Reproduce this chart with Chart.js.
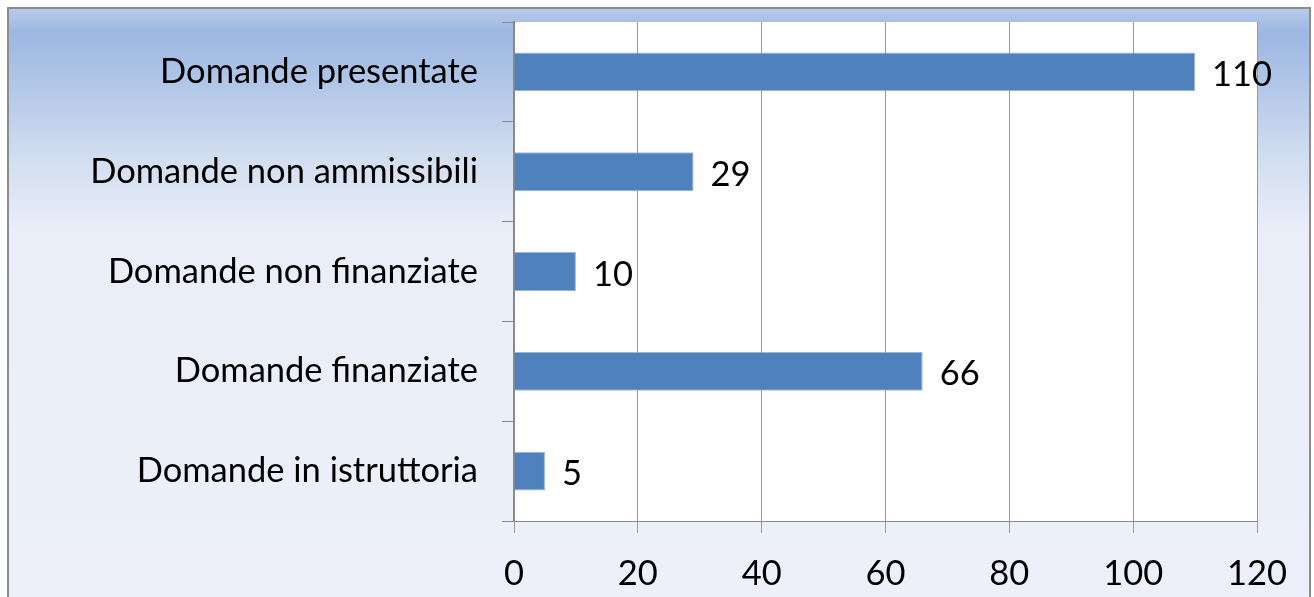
<!DOCTYPE html>
<html><head><meta charset="utf-8">
<script src="https://cdn.jsdelivr.net/npm/chart.js@4/dist/chart.umd.min.js"></script>
<style>html,body{margin:0;padding:0;background:#fff;overflow:hidden}canvas{display:block}</style>
</head><body>
<canvas id="c" width="1314" height="597"></canvas>
<script>
const categories = ["Domande presentate","Domande non ammissibili","Domande non finanziate","Domande finanziate","Domande in istruttoria"];
const values = [110, 29, 10, 66, 5];
const xTicks = [0, 20, 40, 60, 80, 100, 120];

const FONT = 'Lato';
function fitSize(text, target){
  const c = document.createElement('canvas').getContext('2d');
  c.font = '100px ' + FONT;
  return 100 * target / c.measureText(text).width;
}
const catSize = fitSize('Domande presentate', 318);
const numSize = fitSize('120', 60);

const bgPlugin = {
  id: 'bg',
  beforeDraw(chart){
    const {ctx, chartArea: a} = chart;
    ctx.save();
    const g = ctx.createLinearGradient(0, 8, 0, 597);
    g.addColorStop(0, '#b8cbea');
    g.addColorStop(0.042, '#9db7e2');
    g.addColorStop(0.156, '#b8cbe9');
    g.addColorStop(0.258, '#d3def0');
    g.addColorStop(0.377, '#e9eef8');
    g.addColorStop(1, '#edf0f8');
    ctx.fillStyle = g;
    ctx.fillRect(8, 8, 1302, 597);
    ctx.fillStyle = '#ffffff';
    ctx.fillRect(a.left, a.top, a.right - a.left, a.bottom - a.top);
    ctx.strokeStyle = '#8c8c8c';
    ctx.lineWidth = 2;
    ctx.strokeRect(8, 8, 1302, 600);
    ctx.restore();
  }
};

const labelPlugin = {
  id: 'vals',
  afterDatasetsDraw(chart){
    const {ctx} = chart;
    const meta = chart.getDatasetMeta(0);
    ctx.save();
    ctx.fillStyle = '#000';
    ctx.font = numSize + 'px ' + FONT;
    ctx.textAlign = 'left';
    ctx.textBaseline = 'middle';
    meta.data.forEach((bar, i) => {
      ctx.fillText(String(chart.data.datasets[0].data[i]), bar.x + 17, bar.y + 3);
    });
    ctx.restore();
  }
};

new Chart(document.getElementById('c'), {
  type: 'bar',
  data: {
    labels: categories,
    datasets: [{
      data: values,
      backgroundColor: '#4f81bd',
      borderColor: '#9ab5db',
      borderWidth: 1,
      barPercentage: 0.39,
      categoryPercentage: 1
    }]
  },
  options: {
    indexAxis: 'y',
    responsive: false,
    animation: false,
    devicePixelRatio: 1,
    layout: {padding: {left: 0, top: 22, right: 57, bottom: 0}},
    plugins: {legend: {display: false}, tooltip: {enabled: false}},
    scales: {
      x: {
        min: 0, max: 120,
        afterBuildTicks(s){ s.ticks = xTicks.map(v => ({value: v})); },
        ticks: {color: '#000', font: {family: FONT, size: numSize}, padding: 20, maxRotation: 0},
        grid: {color: '#9a9a9a', tickLength: 12, drawOnChartArea: true},
        border: {color: '#8a8a8a', width: 1},
        afterFit(s){ s.height = 76; s.paddingLeft = 0; s.paddingRight = 0; }
      },
      y: {
        ticks: {color: '#000', font: {family: FONT, size: catSize}, padding: 24},
        grid: {drawOnChartArea: false, offset: true, tickLength: 12, color: '#8a8a8a'},
        border: {color: '#8a8a8a', width: 2},
        afterFit(s){ s.width = 514; s.paddingTop = 0; s.paddingBottom = 0; }
      }
    }
  },
  plugins: [bgPlugin, labelPlugin]
});
</script>
</body></html>
